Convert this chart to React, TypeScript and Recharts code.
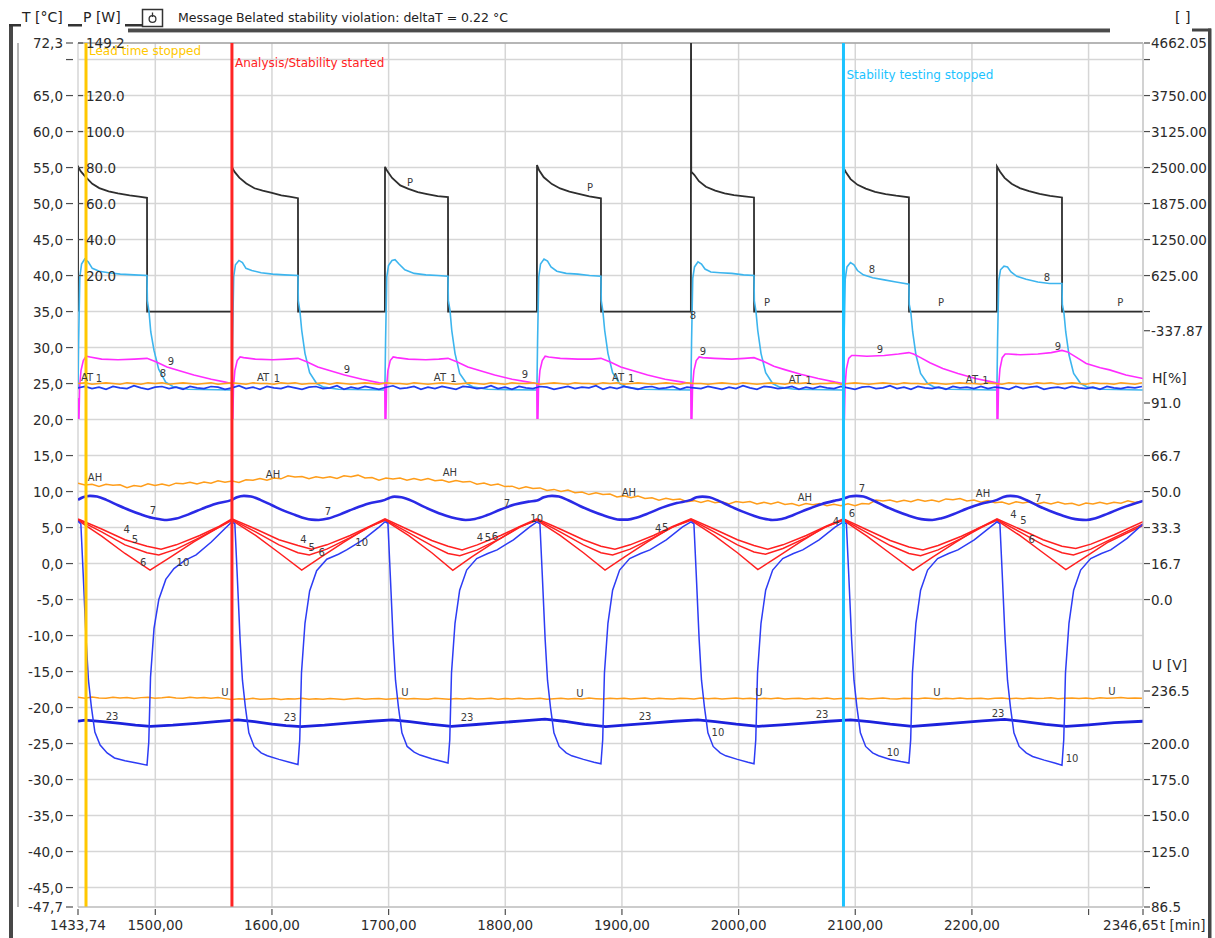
import React from 'react';
import { LineChart, Line, XAxis, YAxis, CartesianGrid, ReferenceLine, ReferenceDot } from 'recharts';

const FONT = '"DejaVu Sans", Verdana, sans-serif';
const W = 1215;
const H = 938;
const PLOT_LEFT = 78;
const PLOT_RIGHT = 1143;

// time axis [min]
const T_START = 1433.74;
const T_END = 2346.65;
const timeTicks = [1433.74, 1500, 1600, 1700, 1800, 1900, 2000, 2100, 2200, 2300, 2346.65];
const timeTickText = ['1433,74', '1500,00', '1600,00', '1700,00', '1800,00', '1900,00', '2000,00', '2100,00', '2200,00', '', '2346,65'];

// left temperature scale [°C]
const tTicks = [72.3, 70, 65, 60, 55, 50, 45, 40, 35, 30, 25, 20, 15, 10, 5, 0, -5, -10, -15, -20, -25, -30, -35, -40, -45, -47.7];
const tTickText = ['72,3', '', '65,0', '60,0', '55,0', '50,0', '45,0', '40,0', '35,0', '30,0', '25,0', '20,0', '15,0', '10,0', '5,0', '0,0',
  '-5,0', '-10,0', '-15,0', '-20,0', '-25,0', '-30,0', '-35,0', '-40,0', '-45,0', '-47,7'];

// power scale [W], printed inside the plot next to the temperature scale
const pTicks = [149.2, 120, 100, 80, 60, 40, 20];
const pTickText = ['149.2', '120.0', '100.0', '80.0', '60.0', '40.0', '20.0'];

// right hand scales, positioned on the temperature grid
const wTickAt = [72.3, 70, 65, 60, 55, 50, 45, 40, 35, 32.34];
const wTickText = ['4662.05', '', '3750.00', '3125.00', '2500.00', '1875.00', '1250.00', '625.00', '', '-337.87'];
const hTickAt = [22.3, 20, 15, 10, 5, 0, -5];
const hTickText = ['91.0', '', '66.7', '50.0', '33.3', '16.7', '0.0'];
const uTickAt = [-17.7, -20, -25, -30, -35, -40, -45, -47.7];
const uTickText = ['236.5', '', '200.0', '175.0', '150.0', '125.0', '', '86.5'];
const unitTitleAt = [25.8, -14.1];
const unitTitleText = ['H[%]', 'U [V]'];
const rightTicks = [...wTickAt, ...unitTitleAt, ...hTickAt, ...uTickAt];

// event markers
const markerAt = [1440.6, 1565.7, 2089.9];
const markerText = ['Lead time stopped', 'Analysis/Stability started', 'Stability testing stopped'];
const markerColor = ['#ffc800', '#ff2424', '#1cc3ff'];

// heater power P [W]
const powerW: [number, number][] = [
  [1433.74, 0], [1433.8, 80.5], [1436, 78], [1440, 75], [1446, 71], [1452, 68.6], [1460, 66.8], [1468, 65.6], [1478, 64.5], [1486, 63.9], [1492.9, 63.2], [1493.0, 0],
  [1565.6, 0], [1565.7, 80.2], [1568, 77.6], [1572, 74.4], [1578, 71.2], [1585, 68.5], [1592, 67.2], [1600, 65.9], [1608, 64.6], [1615, 63.9], [1622.3, 63.0], [1622.4, 0],
  [1696.8, 0], [1696.9, 80.4], [1699, 77.9], [1703, 74.2], [1710, 70.1], [1717, 68.2], [1725, 66.4], [1733, 65.3], [1742, 64.1], [1750.9, 63.6], [1751.0, 0],
  [1827.1, 0], [1827.2, 81.4], [1829, 78.5], [1833, 74.6], [1840, 70.8], [1847, 68.4], [1855, 66.6], [1863, 65.4], [1872, 64.0], [1882.0, 62.9], [1882.1, 0],
  [1959.1, 0], [1959.2, 175], [1959.4, 77.7], [1962, 76.0], [1966, 72.4], [1972, 69.3], [1980, 67.2], [1988, 65.6], [1996, 64.7], [2005, 64.0], [2013.2, 63.4], [2013.3, 0],
  [2089.8, 0], [2089.9, 80.0], [2092, 77.4], [2096, 73.6], [2102, 70.4], [2109, 68.3], [2117, 66.5], [2126, 65.3], [2135, 64.4], [2146.0, 63.5], [2146.1, 0],
  [2221.4, 0], [2221.5, 80.6], [2224, 77.8], [2228, 74.3], [2234, 71.0], [2241, 68.6], [2249, 66.9], [2258, 65.4], [2267, 64.3], [2277.2, 63.4], [2277.3, 0], [2346.65, 0],
];

// probe 8 [°C]
const probe8: [number, number][] = [
  [1433.74, 24.2], [1434.3, 31.0], [1435.3, 39.8], [1436.8, 41.6], [1439.5, 42.3], [1442.5, 41.9], [1446, 41.0], [1452, 40.6], [1460, 40.4], [1470, 40.2], [1482, 40.1], [1492.9, 40.0],
  [1493.2, 36.5], [1494.6, 35.0], [1496.1, 32.2], [1498.9, 29.6], [1502.9, 27.0], [1508.9, 25.2], [1515, 24.6], [1528, 24.2], [1565.6, 24.1],
  [1566.2, 31.0], [1567.2, 39.8], [1568.7, 41.5], [1571.7, 42.1], [1574.7, 41.8], [1577.7, 41.0], [1582.7, 40.7], [1590.7, 40.4], [1600.7, 40.2], [1610.7, 40.1], [1622.3, 40.0],
  [1622.6, 36.5], [1624, 35.0], [1625.5, 32.4], [1628.3, 29.2], [1632.3, 26.5], [1638.3, 25.0], [1644.3, 24.5], [1657, 24.2], [1696.8, 24.1],
  [1697.4, 31.0], [1698.4, 39.8], [1699.9, 41.4], [1702.9, 42.1], [1705.5, 42.2], [1708.9, 41.6], [1713.9, 40.8], [1721.9, 40.3], [1731.9, 40.1], [1741.9, 40.0], [1750.9, 39.9],
  [1751.2, 36.5], [1752.6, 35.2], [1754.1, 32.4], [1756.9, 29.2], [1760.9, 26.4], [1766.9, 25.0], [1772.9, 24.5], [1785, 24.2], [1827.1, 24.1],
  [1827.7, 31.0], [1828.7, 39.8], [1830.2, 41.6], [1833.2, 42.3], [1836.2, 42.0], [1839.2, 41.2], [1844.2, 40.6], [1852.2, 40.3], [1862.2, 40.2], [1872.2, 40.0], [1882.0, 39.9],
  [1882.3, 36.5], [1883.7, 35.0], [1885.2, 32.4], [1888, 29.2], [1892, 26.5], [1898, 25.0], [1904, 24.5], [1917, 24.2], [1959.1, 24.1],
  [1959.7, 31.0], [1960.7, 39.6], [1962.2, 41.2], [1965.2, 41.9], [1968.2, 41.6], [1971.2, 40.9], [1976.2, 40.5], [1984.2, 40.4], [1994.2, 40.3], [2004.2, 40.1], [2013.2, 40.0],
  [2013.5, 36.5], [2014.9, 35.0], [2016.4, 32.4], [2019.2, 29.2], [2023.2, 26.5], [2029.2, 25.0], [2035.2, 24.5], [2048, 24.2], [2089.8, 24.1],
  [2090.4, 31.0], [2091.4, 39.5], [2092.9, 41.2], [2095.9, 41.8], [2098.9, 41.5], [2101.9, 40.7], [2106.9, 40.1], [2114.9, 39.7], [2124.9, 39.4], [2134.9, 39.1], [2146.0, 38.8],
  [2146.3, 36.0], [2147.7, 34.8], [2149.2, 32.2], [2152, 29.0], [2156, 26.4], [2162, 25.0], [2168, 24.5], [2181, 24.2], [2221.4, 24.1],
  [2222.0, 31.0], [2223.0, 39.3], [2224.5, 40.8], [2227.5, 41.3], [2230.5, 41.2], [2233.5, 40.5], [2238.5, 39.9], [2246.5, 39.5], [2256.5, 39.1], [2266.5, 38.9], [2277.2, 38.9],
  [2277.5, 36.0], [2278.9, 34.8], [2280.4, 32.2], [2283.2, 29.0], [2287.2, 26.4], [2293.2, 25.0], [2299.2, 24.5], [2312, 24.2], [2346.65, 24.1],
];

// probe 9 [°C]
const probe9: [number, number][] = [
  [1433.74, 23.0], [1434.0, 20.2], [1434.6, 20.2], [1435.1, 24.5], [1436.3, 26.8], [1438.3, 28.2], [1440.7, 28.8], [1444, 28.7], [1454, 28.4], [1468, 28.3], [1482, 28.4], [1492.9, 28.5],
  [1501, 28.0], [1510, 27.3], [1520, 26.8], [1533, 26.2], [1548, 25.6], [1560, 25.2], [1565.5, 25.0],
  [1565.7, 20.2], [1566.5, 20.2], [1567.0, 24.5], [1568.2, 26.8], [1570.2, 28.2], [1572.7, 28.7], [1575.7, 28.6], [1585.7, 28.4], [1600.7, 28.3], [1613, 28.4], [1622.3, 28.5],
  [1630.3, 28.0], [1639.3, 27.3], [1649.3, 26.8], [1662.3, 26.2], [1677.3, 25.6], [1692, 25.1], [1696.7, 25.0],
  [1696.9, 20.2], [1697.7, 20.2], [1698.2, 24.5], [1699.4, 26.8], [1701.4, 28.2], [1703.9, 28.7], [1706.9, 28.6], [1716.9, 28.4], [1731.9, 28.3], [1743, 28.4], [1750.9, 28.5],
  [1758.9, 28.0], [1767.9, 27.3], [1777.9, 26.8], [1790.9, 26.2], [1805.9, 25.6], [1820, 25.2], [1827.0, 25.0],
  [1827.2, 20.2], [1828.0, 20.2], [1828.5, 24.5], [1829.7, 26.8], [1831.7, 28.2], [1834.2, 28.8], [1837.2, 28.7], [1847.2, 28.5], [1862.2, 28.4], [1874, 28.4], [1882.0, 28.5],
  [1890, 28.0], [1899, 27.3], [1909, 26.8], [1922, 26.2], [1937, 25.6], [1952, 25.2], [1959.0, 25.0],
  [1959.2, 20.2], [1960.0, 20.2], [1960.5, 24.5], [1961.7, 26.8], [1963.7, 28.2], [1966.2, 28.7], [1969.2, 28.6], [1979.2, 28.5], [1994.2, 28.4], [2005, 28.5], [2013.2, 28.6],
  [2021.2, 28.1], [2030.2, 27.4], [2040.2, 26.9], [2053.2, 26.3], [2068.2, 25.7], [2083, 25.2], [2089.7, 25.0],
  [2089.9, 20.2], [2090.7, 20.2], [2091.2, 24.5], [2092.4, 27.0], [2094.4, 28.5], [2096.9, 28.9], [2099.9, 28.9], [2109.9, 28.8], [2124.9, 28.9], [2137, 29.1], [2146.0, 29.3],
  [2150, 29.1], [2156, 28.6], [2164, 27.9], [2175, 27.1], [2188, 26.4], [2203, 25.7], [2215, 25.3], [2221.3, 25.1],
  [2221.5, 20.2], [2222.3, 20.2], [2222.8, 24.5], [2224.0, 27.0], [2226.0, 28.6], [2228.5, 29.1], [2231.5, 29.1], [2241.5, 29.0], [2256.5, 29.1], [2268, 29.3], [2277.2, 29.6],
  [2282, 29.4], [2290, 28.6], [2298, 27.8], [2310, 27.2], [2318, 26.9], [2332, 26.2], [2346.65, 25.7],
];

// probe 7 [°C]
const probe7: [number, number][] = [
  [1433.74, 8.85], [1438, 9.2], [1444, 9.4], [1450, 9.3], [1458, 8.85], [1468, 8.1], [1478, 7.4], [1488, 6.8], [1497, 6.35], [1504, 6.15], [1510, 6.05], [1518, 6.25], [1528, 6.8], [1540, 7.6], [1552, 8.3], [1565.7, 8.85],
  [1570, 9.2], [1576, 9.4], [1582, 9.3], [1590, 8.85], [1600, 8.1], [1610, 7.35], [1620, 6.75], [1628, 6.3], [1634, 6.1], [1640, 6.05], [1648, 6.25], [1658, 6.8], [1670, 7.6], [1683, 8.35], [1696.9, 8.85],
  [1701, 9.15], [1705, 9.3], [1711, 9.2], [1720, 8.7], [1730, 7.9], [1740, 7.2], [1750, 6.6], [1758, 6.25], [1766, 6.05], [1774, 6.2], [1784, 6.7], [1796, 7.5], [1808, 8.2], [1820, 8.6], [1827.2, 8.75],
  [1833, 9.2], [1840, 9.4], [1846, 9.3], [1854, 8.8], [1864, 8.0], [1874, 7.3], [1884, 6.7], [1892, 6.3], [1898, 6.1], [1905, 6.1], [1913, 6.4], [1923, 7.0], [1935, 7.8], [1947, 8.4], [1959.2, 8.85],
  [1964, 9.2], [1969, 9.3], [1975, 9.2], [1983, 8.7], [1993, 7.95], [2003, 7.25], [2013, 6.65], [2021, 6.25], [2029, 6.05], [2037, 6.2], [2047, 6.75], [2059, 7.55], [2071, 8.25], [2083, 8.75], [2089.9, 9.0],
  [2095, 9.3], [2101, 9.4], [2107, 9.3], [2115, 8.8], [2125, 8.0], [2135, 7.3], [2145, 6.7], [2153, 6.3], [2160, 6.1], [2166, 6.05], [2174, 6.3], [2184, 6.85], [2196, 7.65], [2208, 8.3], [2221.5, 8.85],
  [2227, 9.25], [2233, 9.4], [2239, 9.3], [2247, 8.8], [2257, 8.0], [2267, 7.3], [2277, 6.7], [2285, 6.3], [2292, 6.1], [2298, 6.05], [2306, 6.3], [2316, 6.9], [2328, 7.7], [2346.65, 8.7],
];

// probes 4, 5, 6 [°C]
const probe4: [number, number][] = [
  [1433.74, 6.2], [1454, 4.8], [1474, 3.3], [1492.9, 2.4], [1505, 2.0], [1518, 2.6], [1538, 3.9], [1555, 5.2],
  [1565.7, 6.2], [1586, 4.8], [1606, 3.3], [1622.3, 2.5], [1634, 2.0], [1647, 2.6], [1667, 3.9], [1684, 5.2],
  [1696.9, 6.2], [1717, 4.7], [1737, 3.2], [1750.9, 2.4], [1763, 1.9], [1776, 2.6], [1796, 3.9], [1813, 5.2],
  [1827.2, 6.2], [1847, 4.8], [1867, 3.3], [1882.0, 2.4], [1894, 2.0], [1907, 2.6], [1927, 3.9], [1944, 5.2],
  [1959.2, 6.2], [1979, 4.8], [1999, 3.3], [2013.2, 2.5], [2025, 2.0], [2038, 2.6], [2058, 3.9], [2075, 5.2],
  [2089.9, 6.2], [2110, 4.7], [2130, 3.2], [2146.0, 2.3], [2158, 1.9], [2171, 2.5], [2191, 3.8], [2208, 5.1],
  [2221.5, 6.2], [2241, 4.8], [2261, 3.3], [2277.2, 2.4], [2289, 2.1], [2302, 2.7], [2322, 4.0], [2346.65, 5.8],
];
const probe5: [number, number][] = [
  [1433.74, 6.1], [1454, 4.4], [1474, 2.6], [1492.9, 1.5], [1503, 1.2], [1518, 2.0], [1538, 3.6], [1555, 5.1],
  [1565.7, 6.1], [1586, 4.4], [1606, 2.6], [1622.3, 1.5], [1632, 1.2], [1647, 2.0], [1667, 3.6], [1684, 5.1],
  [1696.9, 6.1], [1717, 4.3], [1737, 2.5], [1750.9, 1.4], [1761, 1.1], [1776, 1.9], [1796, 3.5], [1813, 5.1],
  [1827.2, 6.1], [1847, 4.4], [1867, 2.6], [1882.0, 1.5], [1892, 1.2], [1907, 2.0], [1927, 3.6], [1944, 5.1],
  [1959.2, 6.1], [1979, 4.4], [1999, 2.6], [2013.2, 1.6], [2023, 1.3], [2038, 2.1], [2058, 3.6], [2075, 5.1],
  [2089.9, 6.1], [2110, 4.3], [2130, 2.5], [2146.0, 1.4], [2156, 1.1], [2171, 1.9], [2191, 3.5], [2208, 5.0],
  [2221.5, 6.1], [2241, 4.4], [2261, 2.6], [2277.2, 1.5], [2287, 1.2], [2302, 2.0], [2322, 3.6], [2346.65, 5.5],
];
const probe6: [number, number][] = [
  [1433.74, 6.0], [1454, 3.8], [1474, 1.4], [1495.5, -0.9], [1513, 0.9], [1533, 3.0], [1553, 4.9],
  [1565.7, 6.0], [1586, 3.9], [1606, 1.5], [1625.5, -0.9], [1642, 0.9], [1662, 3.0], [1682, 5.0],
  [1696.9, 6.0], [1717, 3.9], [1737, 1.5], [1755, -0.95], [1771, 0.9], [1791, 3.0], [1811, 5.0],
  [1827.2, 6.0], [1847, 3.9], [1867, 1.5], [1885.5, -0.9], [1902, 0.9], [1922, 3.0], [1942, 5.0],
  [1959.2, 6.0], [1979, 3.9], [1999, 1.5], [2016.5, -0.85], [2033, 0.9], [2053, 3.0], [2073, 5.0],
  [2089.9, 6.0], [2110, 3.8], [2130, 1.4], [2149.5, -0.95], [2166, 0.85], [2186, 2.95], [2206, 4.95],
  [2221.5, 6.0], [2241, 3.9], [2261, 1.5], [2280.5, -0.85], [2297, 0.9], [2317, 3.0], [2346.65, 5.3],
];

// probe 10 [°C]
const probe10: [number, number][] = [
  [1433.74, 5.9], [1436.2, 5.5], [1438.2, -1.5], [1440.7, -10.6], [1442.7, -16.2], [1445.2, -19.9], [1448.2, -23.4], [1452.7, -25.2], [1458.7, -26.3], [1465, -27.0], [1474, -27.4], [1484, -27.7], [1492.9, -28.0],
  [1494.4, -24.8], [1495.9, -15.8], [1498.9, -9.0], [1503, -5.0], [1509, -2.2], [1516, -0.7], [1525, 0.4], [1535, 1.2], [1548, 3.0], [1558, 4.6], [1565.7, 5.8],
  [1568.2, 5.5], [1570.2, -1.5], [1572.7, -10.6], [1574.7, -16.2], [1577.2, -19.9], [1580.2, -23.5], [1584.7, -25.4], [1590.7, -26.3], [1596, -26.7], [1606, -27.2], [1615, -27.6], [1622.3, -27.9],
  [1623.8, -24.5], [1625.3, -15.2], [1628.3, -8.3], [1632.3, -3.8], [1638.3, -1.0], [1647, 0.6], [1657, 1.3], [1664, 1.9], [1678, 3.3], [1692, 5.1], [1696.9, 5.8],
  [1699.4, 5.6], [1701.4, -1.5], [1703.9, -10.6], [1705.9, -16.2], [1708.4, -19.9], [1711.4, -23.5], [1715.9, -25.4], [1721.9, -26.2], [1727, -26.6], [1737, -27.1], [1746, -27.5], [1750.9, -27.7],
  [1752.4, -24.5], [1753.9, -15.2], [1756.9, -8.3], [1760.9, -3.7], [1766.9, -0.9], [1775.5, 0.7], [1785, 1.4], [1793, 1.9], [1807, 3.3], [1821, 5.1], [1827.2, 5.8],
  [1829.7, 5.5], [1831.7, -1.5], [1834.2, -10.6], [1836.2, -16.2], [1838.7, -19.9], [1841.7, -23.5], [1846.2, -25.4], [1852.2, -26.3], [1857, -26.7], [1867, -27.2], [1876, -27.6], [1882.0, -27.8],
  [1883.5, -24.5], [1885, -15.2], [1888, -8.3], [1892, -3.7], [1898, -0.9], [1906.6, 0.7], [1916, 1.4], [1924, 1.9], [1938, 3.3], [1952, 5.1], [1959.2, 5.8],
  [1961.7, 5.5], [1963.7, -1.5], [1966.2, -10.6], [1968.2, -16.2], [1970.7, -19.9], [1973.7, -23.5], [1978.2, -25.4], [1984.2, -26.3], [1989, -26.7], [1999, -27.2], [2008, -27.6], [2013.2, -27.8],
  [2014.7, -24.5], [2016.2, -15.2], [2019.2, -8.3], [2023.2, -3.7], [2029.2, -0.9], [2037.8, 0.7], [2047, 1.4], [2055, 1.9], [2069, 3.3], [2083, 5.1], [2089.9, 5.8],
  [2092.4, 5.5], [2094.4, -1.5], [2096.9, -10.6], [2098.9, -16.2], [2101.4, -19.9], [2104.4, -23.5], [2108.9, -25.4], [2114.9, -26.3], [2120, -26.7], [2130, -27.2], [2139, -27.5], [2146.0, -27.7],
  [2147.5, -24.5], [2149, -15.2], [2152, -8.3], [2156, -3.7], [2162, -0.9], [2170.6, 0.7], [2180, 1.4], [2188, 1.9], [2202, 3.3], [2216, 5.1], [2221.5, 5.8],
  [2224, 5.5], [2226, -1.5], [2228.5, -10.6], [2230.5, -16.2], [2233, -19.9], [2236, -23.5], [2240.5, -25.4], [2246.5, -26.3], [2252, -26.8], [2262, -27.3], [2271, -27.7], [2277.2, -28.0],
  [2278.7, -24.5], [2280.2, -15.2], [2283.2, -8.3], [2287.2, -3.7], [2293.2, -0.9], [2301.8, 0.7], [2311, 1.4], [2319, 1.9], [2333, 3.5], [2346.65, 5.5],
];

// probe 23 [°C]
const probe23: [number, number][] = [
  [1433.74, -21.9], [1440, -21.75], [1455, -21.95], [1470, -22.2], [1483, -22.45], [1496, -22.6], [1515, -22.45], [1535, -22.2], [1552, -21.95], [1571, -21.7],
  [1585, -21.95], [1600, -22.3], [1612, -22.5], [1625, -22.65], [1645, -22.45], [1665, -22.15], [1685, -21.9], [1703, -21.7], [1718, -21.95], [1735, -22.3],
  [1754, -22.6], [1775, -22.35], [1795, -22.1], [1815, -21.85], [1834, -21.6], [1850, -21.9], [1868, -22.35], [1886, -22.65], [1905, -22.4], [1925, -22.15],
  [1945, -21.9], [1965, -21.7], [1980, -21.95], [1998, -22.3], [2017, -22.6], [2037, -22.4], [2057, -22.15], [2077, -21.9], [2096, -21.7], [2112, -21.95],
  [2130, -22.3], [2149, -22.6], [2170, -22.35], [2190, -22.1], [2209, -21.85], [2228, -21.65], [2245, -21.95], [2263, -22.35], [2281, -22.6], [2300, -22.4],
  [2322, -22.1], [2346.65, -21.9],
];

// slow channels, logged every 6 min from T_START
const SAMPLE_STEP = 6;

// ambient temperature AT [°C]
const ambientAT = [
  25.0, 25.1, 24.9, 25.0, 25.1, 25.0, 24.9, 25.1, 25.0, 24.9,
  25.1, 25.0, 25.1, 24.9, 25.0, 25.1, 25.0, 24.9, 25.0, 25.1,
  24.9, 25.0, 25.1, 25.0, 24.9, 25.1, 25.0, 25.0, 24.9, 25.1,
  25.0, 25.1, 24.9, 25.0, 25.0, 25.1, 24.9, 25.1, 25.0, 24.9,
  25.0, 25.1, 25.0, 24.9, 25.1, 25.0, 25.0, 24.9, 25.1, 25.0,
  24.9, 25.0, 25.1, 25.0, 24.9, 25.0, 25.1, 25.0, 24.9, 25.1,
  25.0, 24.9, 25.1, 25.0, 25.0, 25.1, 24.9, 25.0, 25.1, 25.0,
  24.9, 25.1, 25.0, 25.0, 24.9, 25.1, 25.0, 25.1, 24.9, 25.0,
  25.1, 25.0, 24.9, 25.0, 25.1, 25.0, 24.9, 25.1, 25.0, 25.0,
  24.9, 25.0, 25.1, 25.0, 24.9, 25.1, 25.0, 24.9, 25.0, 25.1,
  25.0, 24.9, 25.1, 25.0, 25.1, 24.9, 25.0, 25.0, 25.1, 24.9,
  25.0, 25.1, 25.0, 24.9, 25.0, 25.1, 25.0, 24.9, 25.1, 25.0,
  25.0, 24.9, 25.1, 25.0, 24.9, 25.0, 25.1, 25.0, 25.0, 24.9,
  25.1, 25.0, 24.9, 25.1, 25.0, 25.0, 24.9, 25.1, 25.0, 25.1,
  24.9, 25.0, 25.1, 25.0, 24.9, 25.1, 25.0, 25.0, 24.9, 25.1,
  25.0, 24.9, 25.1,
];

// probe 1 [°C]
const probe1 = [
  24.4, 24.6, 24.3, 24.5, 24.2, 24.6, 24.4, 24.3, 24.7, 24.4,
  24.2, 24.5, 24.6, 24.3, 24.5, 24.2, 24.6, 24.4, 24.3, 24.6,
  24.5, 24.2, 24.4, 24.7, 24.3, 24.5, 24.2, 24.6, 24.4, 24.3,
  24.6, 24.4, 24.2, 24.5, 24.6, 24.3, 24.4, 24.7, 24.2, 24.5,
  24.3, 24.6, 24.4, 24.2, 24.5, 24.7, 24.3, 24.4, 24.6, 24.2,
  24.5, 24.3, 24.6, 24.4, 24.2, 24.6, 24.5, 24.3, 24.4, 24.7,
  24.3, 24.5, 24.2, 24.6, 24.4, 24.3, 24.6, 24.5, 24.2, 24.4,
  24.6, 24.3, 24.5, 24.4, 24.7, 24.2, 24.5, 24.3, 24.6, 24.4,
  24.2, 24.5, 24.6, 24.3, 24.4, 24.6, 24.2, 24.5, 24.4, 24.3,
  24.6, 24.4, 24.2, 24.5, 24.3, 24.7, 24.4, 24.2, 24.6, 24.5,
  24.3, 24.4, 24.6, 24.2, 24.5, 24.3, 24.6, 24.4, 24.3, 24.6,
  24.4, 24.2, 24.5, 24.6, 24.3, 24.4, 24.7, 24.3, 24.5, 24.2,
  24.6, 24.4, 24.3, 24.5, 24.2, 24.6, 24.4, 24.5, 24.3, 24.6,
  24.3, 24.5, 24.4, 24.2, 24.6, 24.3, 24.5, 24.6, 24.2, 24.4,
  24.5, 24.3, 24.6, 24.4, 24.3, 24.5, 24.2, 24.6, 24.4, 24.3,
  24.5, 24.4, 24.6,
];

// ambient humidity AH [%]
const humidityAH = [
  53.9, 53.0, 53.4, 52.4, 53.4, 52.9, 53.1, 51.8, 52.8, 52.4,
  53.6, 52.8, 53.5, 52.7, 53.9, 53.6, 54.3, 53.5, 54.4, 53.9,
  55.0, 54.3, 54.9, 54.2, 55.5, 55.2, 56.0, 55.2, 56.3, 55.9,
  57.3, 56.7, 57.0, 55.9, 56.9, 56.3, 56.8, 56.1, 57.3, 56.9,
  57.6, 56.3, 56.5, 55.3, 56.3, 55.8, 56.3, 55.3, 56.0, 55.2,
  56.0, 55.0, 55.3, 54.3, 55.1, 54.4, 54.7, 53.4, 54.0, 52.9,
  53.5, 52.3, 52.5, 51.3, 52.2, 51.4, 51.7, 50.5, 51.0, 50.0,
  50.7, 49.5, 49.8, 48.6, 49.4, 48.6, 48.9, 47.5, 48.0, 47.1,
  47.9, 46.8, 47.1, 46.0, 46.9, 46.2, 46.5, 45.3, 45.8, 44.9,
  45.8, 44.8, 45.3, 44.3, 45.4, 44.9, 45.4, 44.3, 45.0, 44.2,
  45.1, 44.0, 44.5, 43.5, 44.5, 43.9, 44.5, 43.4, 44.1, 43.4,
  44.3, 43.4, 44.5, 44.3, 46.1, 45.6, 46.1, 45.2, 46.0, 45.3,
  46.3, 45.5, 46.1, 45.3, 46.6, 46.2, 46.8, 45.6, 46.1, 45.1,
  45.9, 44.8, 45.2, 44.2, 45.3, 44.7, 45.3, 44.2, 45.0, 44.2,
  45.1, 44.2, 44.6, 43.6, 44.7, 44.3, 45.1, 44.3, 45.1, 44.6,
  45.7, 44.9, 45.5,
];

// mains voltage U [V]
const voltageU = [
  232.1, 231.5, 232.3, 231.7, 231.4, 232.2, 231.6, 232.0, 231.3, 231.9,
  232.2, 231.5, 231.8, 232.3, 231.6, 231.4, 232.1, 231.7, 232.0, 231.5,
  231.9, 231.2, 230.6, 231.2, 230.8, 231.4, 230.7, 231.0, 231.3, 230.6,
  231.2, 230.9, 231.4, 230.7, 231.1, 230.8, 231.3, 231.0, 230.6, 231.2,
  231.4, 230.8, 231.1, 231.3, 230.7, 231.2, 231.5, 230.9, 231.3, 231.0,
  230.8, 231.4, 231.1, 230.7, 231.3, 231.0, 231.5, 230.9, 231.2, 231.4,
  230.8, 231.3, 231.0, 231.5, 230.9, 231.2, 231.4, 230.8, 231.1, 231.5,
  231.0, 231.3, 230.9, 231.6, 231.2, 230.9, 231.4, 231.1, 231.5, 230.9,
  231.3, 231.6, 231.0, 231.4, 231.2, 230.9, 231.5, 231.3, 231.0, 231.6,
  231.2, 231.5, 230.9, 231.3, 231.6, 231.1, 231.4, 231.0, 231.5, 231.2,
  231.6, 231.0, 231.3, 231.5, 230.9, 231.4, 231.2, 231.6, 231.0, 231.3,
  231.5, 231.1, 231.4, 230.9, 231.3, 231.6, 231.2, 231.0, 231.5, 231.3,
  231.1, 231.6, 231.3, 231.0, 231.4, 231.2, 231.6, 231.1, 231.3, 231.5,
  231.0, 231.4, 231.7, 231.2, 231.5, 231.1, 231.6, 231.3, 231.4, 231.8,
  231.2, 231.5, 231.7, 231.3, 231.6, 231.2, 231.8, 231.4, 231.6, 231.9,
  231.5, 231.7, 231.4,
];

// channel tags written next to the curves: [time, °C, text]
const curveTags: [number, number, string][] = [
  [1718.3, 52.9, 'P'], [1872.6, 52.2, 'P'], [2024.3, 36.2, 'P'], [2173.5, 36.2, 'P'], [2327.1, 36.2, 'P'],
  [1506.6, 26.4, '8'], [1960.9, 34.5, '8'], [2114.3, 40.8, '8'], [2264.4, 39.7, '8'],
  [1513.5, 28.1, '9'], [1664.3, 26.9, '9'], [1816.9, 26.3, '9'], [1969.5, 29.4, '9'], [2121.2, 29.8, '9'], [2273.8, 30.1, '9'],
  [1441.5, 25.8, 'AT'], [1592.3, 25.8, 'AT'], [1744.0, 25.8, 'AT'], [1896.6, 25.8, 'AT'], [2048.3, 25.6, 'AT'], [2200.0, 25.6, 'AT'],
  [1451.7, 25.7, '1'], [1604.3, 25.7, '1'], [1755.5, 25.7, '1'], [1908.0, 25.7, '1'], [2060.0, 25.5, '1'], [2211.5, 25.5, '1'],
  [1448.3, 11.9, 'AH'], [1600.9, 12.4, 'AH'], [1752.6, 12.7, 'AH'], [1906.0, 9.9, 'AH'], [2056.9, 9.2, 'AH'], [2209.5, 9.8, 'AH'],
  [1498.0, 7.4, '7'], [1648.0, 7.3, '7'], [1801.5, 8.3, '7'], [2105.8, 10.5, '7'], [2256.7, 9.1, '7'],
  [1475.5, 4.7, '4'], [1482.6, 3.3, '5'], [1489.7, 0.1, '6'],
  [1626.9, 3.3, '4'], [1634.0, 2.3, '5'], [1642.6, 1.5, '6'],
  [1778.3, 3.6, '4'], [1785.2, 3.6, '5'], [1791.2, 3.7, '6'],
  [1931.0, 4.9, '4'], [1937.0, 5.0, '5'],
  [2083.5, 5.8, '4'], [2097.2, 6.9, '6'],
  [2235.5, 6.8, '4'], [2244.1, 6.0, '5'], [2251.2, 3.3, '6'],
  [1523.7, 0.1, '10'], [1676.9, 3.0, '10'], [1826.9, 6.3, '10'], [1982.3, -23.5, '10'], [2132.4, -26.3, '10'], [2285.8, -27.0, '10'],
  [1559.7, -17.9, 'U'], [1714.0, -17.9, 'U'], [1864.0, -18.0, 'U'], [2017.5, -17.9, 'U'], [2170.1, -17.9, 'U'], [2320.1, -17.8, 'U'],
  [1462.9, -21.2, '23'], [1615.5, -21.4, '23'], [1767.2, -21.4, '23'], [1919.8, -21.2, '23'], [2071.5, -21.0, '23'], [2222.4, -20.8, '23'],
];

const rows = (pairs: [number, number][]) => pairs.map(([t, v]) => ({ t, v }));
const sampled = (vals: number[]) => vals.map((v, i) => ({ t: T_START + i * SAMPLE_STEP, v }));

const TICK_TEXT = { fontSize: 13.5, fill: '#2b2b2b', fontFamily: FONT };

// scale labels hang off the plot edges; only the tick's y comes from the axis
const TempTick = ({ y, payload }: any) => {
  const x = PLOT_LEFT;
  const label = tTickText[tTicks.indexOf(payload.value)] || '';
  return (
    <g>
      <line x1={x - 12} x2={x - 5} y1={y} y2={y} stroke="#4d4d4d" strokeWidth={1.2} />
      {label && <text x={x - 15} y={y + 5} textAnchor="end" {...TICK_TEXT}>{label}</text>}
    </g>
  );
};

const PowerTick = ({ y, payload }: any) => {
  const x = PLOT_LEFT;
  return (
    <g>
      <line x1={x} x2={x + 5} y1={y} y2={y} stroke="#4d4d4d" strokeWidth={1.2} />
      <text x={x + 8} y={y + 5} textAnchor="start" {...TICK_TEXT}>{pTickText[pTicks.indexOf(payload.value)]}</text>
    </g>
  );
};

const SideTick = ({ y, payload }: any) => {
  const x = PLOT_RIGHT;
  const v = payload.value;
  const title = unitTitleAt.indexOf(v);
  if (title >= 0) {
    return <text x={x + 9} y={y + 5} fontSize={14} fill="#2b2b2b" fontFamily={FONT}>{unitTitleText[title]}</text>;
  }
  let label = '';
  if (wTickAt.includes(v)) label = wTickText[wTickAt.indexOf(v)];
  else if (hTickAt.includes(v)) label = hTickText[hTickAt.indexOf(v)];
  else if (uTickAt.includes(v)) label = uTickText[uTickAt.indexOf(v)];
  return (
    <g>
      <line x1={x + 1} x2={x + 7} y1={y} y2={y} stroke="#4d4d4d" strokeWidth={1.2} />
      {label && <text x={x + 8} y={y + 5} textAnchor="start" {...TICK_TEXT}>{label}</text>}
    </g>
  );
};

const TimeTick = ({ x, y, payload }: any) => {
  const i = timeTicks.indexOf(payload.value);
  const last = i === timeTicks.length - 1;
  return (
    <g>
      <line x1={x} x2={x} y1={y + 2} y2={y + 8} stroke="#4d4d4d" strokeWidth={1.2} />
      <text x={last ? x - 12 : x} y={y + 23} textAnchor="middle" {...TICK_TEXT}>{timeTickText[i]}</text>
      {last && <text x={x + 17} y={y + 23} textAnchor="start" {...TICK_TEXT}>t [min]</text>}
    </g>
  );
};

// window frame and message bar around the plot
const Frame = () => (
  <svg width={W} height={H} style={{ position: 'absolute', left: 0, top: 0, pointerEvents: 'none' }}>
    <rect x={9} y={24} width={4} height={H - 24} fill="#474747" />
    <rect x={9} y={24} width={12} height={2.5} fill="#333" />
    <text x={22} y={22} fontSize={14} fill="#222" fontFamily={FONT}>T [°C]</text>
    <rect x={68} y={24} width={14} height={2.5} fill="#333" />
    <text x={83} y={22} fontSize={14} fill="#222" fontFamily={FONT}>P [W]</text>
    <rect x={125} y={24} width={17} height={2.5} fill="#333" />
    <rect x={142.5} y={9.5} width={20} height={17} fill="#fff" stroke="#333" strokeWidth={1.5} />
    <circle cx={152.5} cy={19} r={3.4} fill="none" stroke="#333" strokeWidth={1.3} />
    <line x1={152.5} x2={152.5} y1={12.5} y2={17} stroke="#333" strokeWidth={1.3} />
    <text x={178} y={22} fontSize={12.5} fill="#222" fontFamily={FONT}>Message</text>
    <text x={236} y={22} fontSize={12.5} fill="#222" fontFamily={FONT}>Belated stability violation: deltaT = 0.22 °C</text>
    <rect x={128} y={28.5} width={982} height={3.5} fill="#4b4b4b" />
    <rect x={128} y={32} width={982} height={1} fill="#b5b5b5" />
    <text x={1175} y={22} fontSize={14} fill="#222" fontFamily={FONT}>[ ]</text>
    <rect x={1192} y={28.5} width={19} height={3} fill="#444" />
    <rect x={1208} y={28.5} width={3.5} height={H - 28.5} fill="#474747" />
  </svg>
);

const lineProps = { dot: false, isAnimationActive: false, type: 'linear' as const, dataKey: 'v', activeDot: false };

export default function App() {
  return (
    <div style={{ position: 'absolute', left: 0, top: 0, width: W, height: H, background: '#fff', fontFamily: FONT }}>
      <LineChart width={W} height={H} margin={{ top: 43, right: 0, bottom: 0, left: 0 }}>
        <CartesianGrid yAxisId="T" stroke="#d6d6d6" strokeWidth={1.5} />
        <XAxis
          dataKey="t"
          type="number"
          domain={[T_START, T_END]}
          allowDataOverflow
          ticks={timeTicks}
          interval={0}
          height={31}
          tickSize={0}
          tickMargin={0}
          tickLine={false}
          axisLine={{ stroke: '#b8b8b8' }}
          tick={<TimeTick />}
        />
        <YAxis
          yAxisId="T"
          type="number"
          domain={[-47.7, 72.3]}
          allowDataOverflow
          ticks={tTicks}
          interval={0}
          width={78}
          tickSize={0}
          tickMargin={0}
          tickLine={false}
          axisLine={{ stroke: '#6e6e6e' }}
          tick={<TempTick />}
        />
        <YAxis
          yAxisId="P"
          type="number"
          domain={[-330.8, 149.2]}
          allowDataOverflow
          mirror
          width={2}
          ticks={pTicks}
          interval={0}
          tickSize={0}
          tickMargin={0}
          tickLine={false}
          axisLine={false}
          tick={<PowerTick />}
        />
        <YAxis
          yAxisId="R"
          orientation="right"
          type="number"
          domain={[-47.7, 72.3]}
          allowDataOverflow
          ticks={rightTicks}
          interval={0}
          width={72}
          tickSize={0}
          tickMargin={0}
          tickLine={false}
          axisLine={{ stroke: '#c4c4c4' }}
          tick={<SideTick />}
        />
        <YAxis yAxisId="H" hide type="number" domain={[-142.33, 257.67]} allowDataOverflow />
        <YAxis yAxisId="U" hide type="number" domain={[86.5, 686.5]} allowDataOverflow />

        <ReferenceLine yAxisId="T" y={72.3} stroke="#8c8c8c" strokeWidth={1} />

        <Line {...lineProps} data={rows(powerW)} yAxisId="P" stroke="#2e2e2e" strokeWidth={1.8} />
        <Line {...lineProps} data={sampled(humidityAH)} yAxisId="H" stroke="#ff9d1a" strokeWidth={1.5} />
        <Line {...lineProps} data={sampled(voltageU)} yAxisId="U" stroke="#ff9d1a" strokeWidth={1.5} />
        <Line {...lineProps} data={rows(probe23)} yAxisId="T" stroke="#1c22dc" strokeWidth={2.8} />
        <Line {...lineProps} data={rows(probe7)} yAxisId="T" type="monotone" stroke="#2a2ae6" strokeWidth={2.6} />
        <Line {...lineProps} data={rows(probe4)} yAxisId="T" stroke="#ff2020" strokeWidth={1.5} />
        <Line {...lineProps} data={rows(probe5)} yAxisId="T" stroke="#ff2020" strokeWidth={1.5} />
        <Line {...lineProps} data={rows(probe6)} yAxisId="T" stroke="#ff2020" strokeWidth={1.5} />
        <Line {...lineProps} data={rows(probe10)} yAxisId="T" stroke="#2d3cf5" strokeWidth={1.5} />
        <Line {...lineProps} data={rows(probe8)} yAxisId="T" stroke="#3db5ee" strokeWidth={1.6} />
        <Line {...lineProps} data={rows(probe9)} yAxisId="T" stroke="#ff2cff" strokeWidth={1.6} />
        <Line {...lineProps} data={sampled(ambientAT)} yAxisId="T" stroke="#ffa11c" strokeWidth={1.6} />
        <Line {...lineProps} data={sampled(probe1)} yAxisId="T" stroke="#1f3df0" strokeWidth={1.6} />

        {markerAt.map((t, i) => (
          <ReferenceLine
            key={markerText[i]}
            yAxisId="T"
            x={t}
            stroke={markerColor[i]}
            strokeWidth={3}
            label={(p: any) => (
              <text x={p.viewBox.x + 3} y={p.viewBox.y + 12 + i * 12} fontSize={12} fill={markerColor[i]} fontFamily={FONT}>
                {markerText[i]}
              </text>
            )}
          />
        ))}

        {curveTags.map(([t, v, text], i) => (
          <ReferenceDot
            key={`tag-${i}`}
            yAxisId="T"
            x={t}
            y={v}
            r={0}
            fill="none"
            stroke="none"
            label={{ value: text, position: 'center', fontSize: 10, fill: '#3a3a3a', fontFamily: FONT }}
          />
        ))}
      </LineChart>
      <Frame />
    </div>
  );
}
